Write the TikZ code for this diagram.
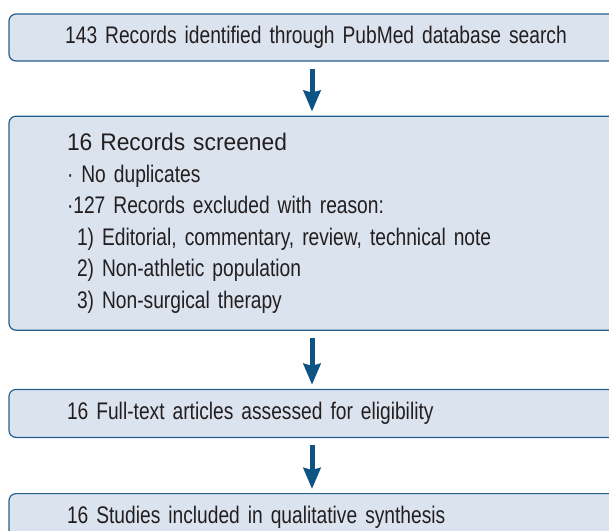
\documentclass[tikz,border=0pt]{standalone}
\usepackage{fontspec}
\setmainfont{Liberation Sans}[FakeStretch=0.8, WordSpace=0.8]
\newfontfamily\headfont{Liberation Sans}[FakeStretch=0.95]
\usetikzlibrary{positioning,arrows.meta}

\definecolor{boxfill}{HTML}{DAE3EE}
\definecolor{boxline}{HTML}{24608E}
\definecolor{arrowblue}{HTML}{0D5485}
\definecolor{textgrey}{HTML}{231F20}

\begin{document}
\begin{tikzpicture}[x=1pt, y=1pt,
  stagebox/.style={draw=boxline, fill=boxfill, line width=1.2pt, rounded corners=7pt,
    text width=498pt, inner xsep=58pt, inner ysep=0pt, minimum height=47pt,
    align=left, text=textgrey, font=\fontsize{24}{31.6}\selectfont},
  flowarrow/.style={draw=arrowblue, line width=5pt,
    -{Stealth[length=21pt, width=17pt, inset=2pt]}, shorten <=7pt, shorten >=4pt}]

\useasboundingbox (0,0) rectangle (609,-530);
\clip (0,0) rectangle (609,-530);

\node[stagebox, align=center, text width=574pt, inner xsep=20pt] (ident) at (316,-37.5) {143 Records identified through PubMed database search};

\node[stagebox, minimum height=214pt, below=54pt of ident] (screen) {{\headfont\fontsize{24}{31.6}\selectfont 16 Records screened}\\
· No duplicates\\
·127 Records excluded with reason:\\
\hspace*{10pt}1) Editorial, commentary, review, technical note\\
\hspace*{10pt}2) Non-athletic population\\
\hspace*{10pt}3) Non-surgical therapy};

\node[stagebox, minimum height=48pt, below=58pt of screen] (fulltext) {16 Full-text articles assessed for eligibility};

\node[stagebox, minimum height=48pt, below=55pt of fulltext] (incl) {16 Studies included in qualitative synthesis};% runs off the page

\draw [flowarrow] ([xshift=-4pt]ident.south) -- ([xshift=-4pt]screen.north);
\draw [flowarrow] ([xshift=-4pt]screen.south) -- ([xshift=-4pt]fulltext.north);
\draw [flowarrow] ([xshift=-4pt]fulltext.south) -- ([xshift=-4pt]incl.north);
\end{tikzpicture}
\end{document}
